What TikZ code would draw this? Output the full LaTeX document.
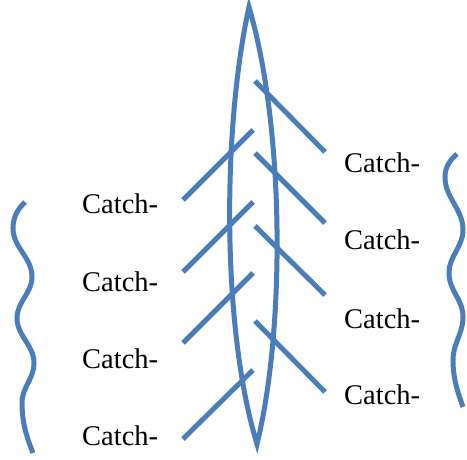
\documentclass[tikz,border=0pt]{standalone}
\usepackage{fontspec}
\setmainfont{Liberation Serif}
\definecolor{strand}{HTML}{4A7EBB}
\begin{document}
\begin{tikzpicture}[x=1pt,y=-1pt,
  stroke/.style={draw=strand,line width=5pt},
  label/.style={anchor=base west,inner sep=0pt,font=\fontsize{28.5}{28.5}\selectfont}]
\useasboundingbox (0,0) rectangle (467,460);

% central lens
\draw[stroke,line join=miter,miter limit=6] (249,7) .. controls (222,130) and (222,330) .. (257,444)
  .. controls (285,330) and (285,130) .. (249,7) -- cycle;

% left-hand barbs
\draw[stroke] (183,200) -- (253,130);
\draw[stroke] (183,272) -- (253,202);
\draw[stroke] (183,343) -- (253,273);
\draw[stroke] (183,439) -- (253,370);

% right-hand barbs
\draw[stroke] (255,81) -- (325,152);
\draw[stroke] (255,153) -- (325,223);
\draw[stroke] (255,226) -- (325,295);
\draw[stroke] (255,321) -- (325,392);

% labels
\node[label] (l1) at (82,214) {Catch-};
\node[label] (l2) at (82,291) {Catch-};
\node[label] (l3) at (82,368) {Catch-};
\node[label] (l4) at (82,445) {Catch-};
\node[label] (r1) at (344,173) {Catch-};
\node[label] (r2) at (344,250) {Catch-};
\node[label] (r3) at (344,328) {Catch-};
\node[label] (r4) at (344,405) {Catch-};

% wavy braces
\draw[stroke] (25,202) .. controls (20,207) and (13,215) .. (13,228)
  .. controls (13,248) and (32,257) .. (32,277)
  .. controls (32,293) and (17,302) .. (17,318)
  .. controls (17,336) and (34,345) .. (34,363)
  .. controls (34,379) and (22,387) .. (22,403)
  .. controls (22,423) and (27,438) .. (33,453);
\draw[stroke] (457,154) .. controls (450,160) and (445,167) .. (445,177)
  .. controls (445,198) and (463,209) .. (463,230)
  .. controls (463,247) and (449,256) .. (449,273)
  .. controls (449,291) and (463,299) .. (463,317)
  .. controls (463,334) and (453,343) .. (453,360)
  .. controls (453,379) and (458,393) .. (463,407);
\end{tikzpicture}
\end{document}
